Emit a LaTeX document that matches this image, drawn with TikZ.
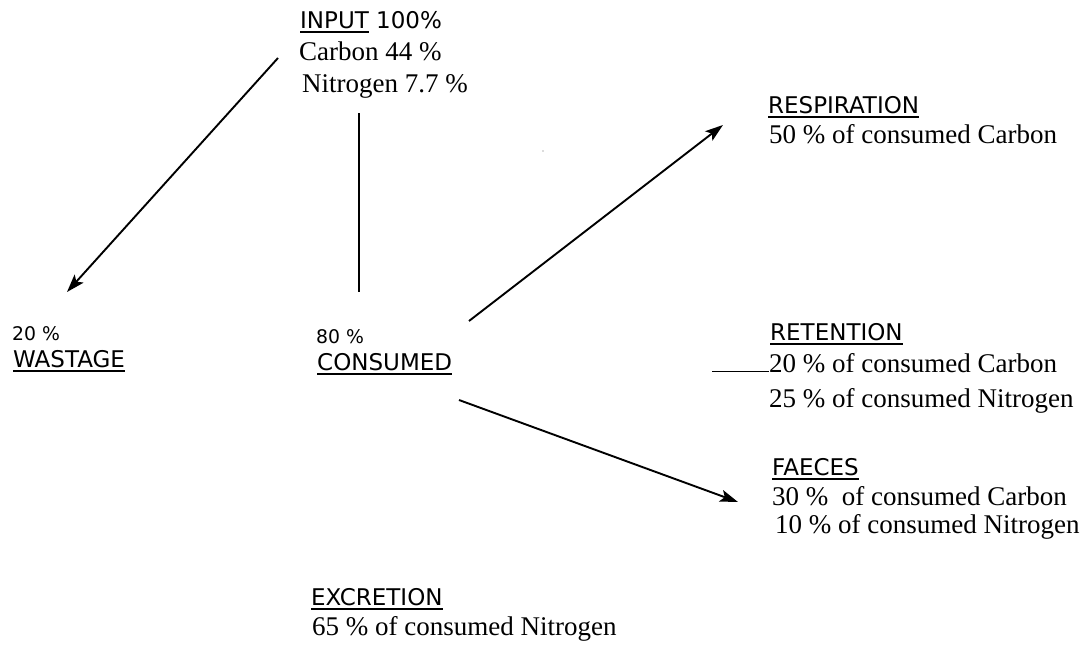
\documentclass[tikz,border=0pt]{standalone}
\usepackage{fontspec}
\setmainfont{Liberation Serif}
\newfontfamily\labelsans{DejaVu Sans}
\usetikzlibrary{arrows.meta}
% underlined heading word
\newcommand\undl[1]{\setbox0\hbox{#1}\rlap{\rule[-4.6pt]{\wd0}{1.5pt}}\box0\relax}
\tikzset{
  txt/.style={anchor=base west, inner sep=0pt, font=\fontsize{27}{31}\selectfont},
  head/.style={anchor=base west, inner sep=0pt, font=\labelsans\fontsize{23}{27}\selectfont},
  pct/.style={anchor=base west, inner sep=0pt, font=\labelsans\fontsize{18.8}{22}\selectfont},
  flow/.style={line width=1.9pt, -{Stealth[length=18pt,width=12pt,inset=4pt]}},
  plainline/.style={line width=1.5pt},
}
\begin{document}
\begin{tikzpicture}[x=1pt,y=-1pt]
\useasboundingbox (0,0) rectangle (1082,645);

% input block
\node[head] (input) at (300,28) {\undl{INPUT} 100\%};
\node[txt] (carbon) at (299,60) {Carbon 44 \%};
\node[txt] (nitro) at (302,92) {Nitrogen 7.7 \%};

% wastage and consumed
\node[pct] (w20) at (12,340) {20 \%};
\node[head] (wastage) at (13,367) {\undl{WASTAGE}};
\node[pct] (c80) at (316,343) {80 \%};
\node[head] (consumed) at (317,370) {\undl{CONSUMED}};

% respiration
\node[head] (resp) at (768,113) {\undl{RESPIRATION}};
\node[txt] (resp1) at (769,143) {50 \% of consumed Carbon};

% retention
\node[head] (ret) at (770,340) {\undl{RETENTION}};
\node[txt] (ret1) at (769,372) {20 \% of consumed Carbon};
\node[txt] (ret2) at (769,407) {25 \% of consumed Nitrogen};

% faeces
\node[head] (faeces) at (772,475) {\undl{FAECES}};
\node[txt] (fae1) at (772,505) {30 \%\ \ of consumed Carbon};
\node[txt] (fae2) at (775,533) {10 \% of consumed Nitrogen};

% excretion
\node[head] (excr) at (311,605) {\undl{EXCRETION}};
\node[txt] (excr1) at (312,635) {65 \% of consumed Nitrogen};

% connector end points
\coordinate (wstart) at (278,58);
\coordinate (wend) at (67,292);
\coordinate (vtop) at (359,113);
\coordinate (vbot) at (359,292);
\coordinate (rstart) at (469,321);
\coordinate (rend) at (723,125);
\coordinate (fstart) at (459,400);
\coordinate (fend) at (738,502);
\coordinate (retlead) at (712,371.5);

\draw[flow] (wstart) -- (wend);
\draw[plainline] (vtop) -- (vbot);
\draw[flow] (rstart) -- (rend);
\draw[flow] (fstart) -- (fend);
\draw[line width=1pt] (retlead) -- (ret1.base west |- retlead);

% stray speck
\fill[black!60] (543,151) circle (0.7pt);
\end{tikzpicture}
\end{document}
